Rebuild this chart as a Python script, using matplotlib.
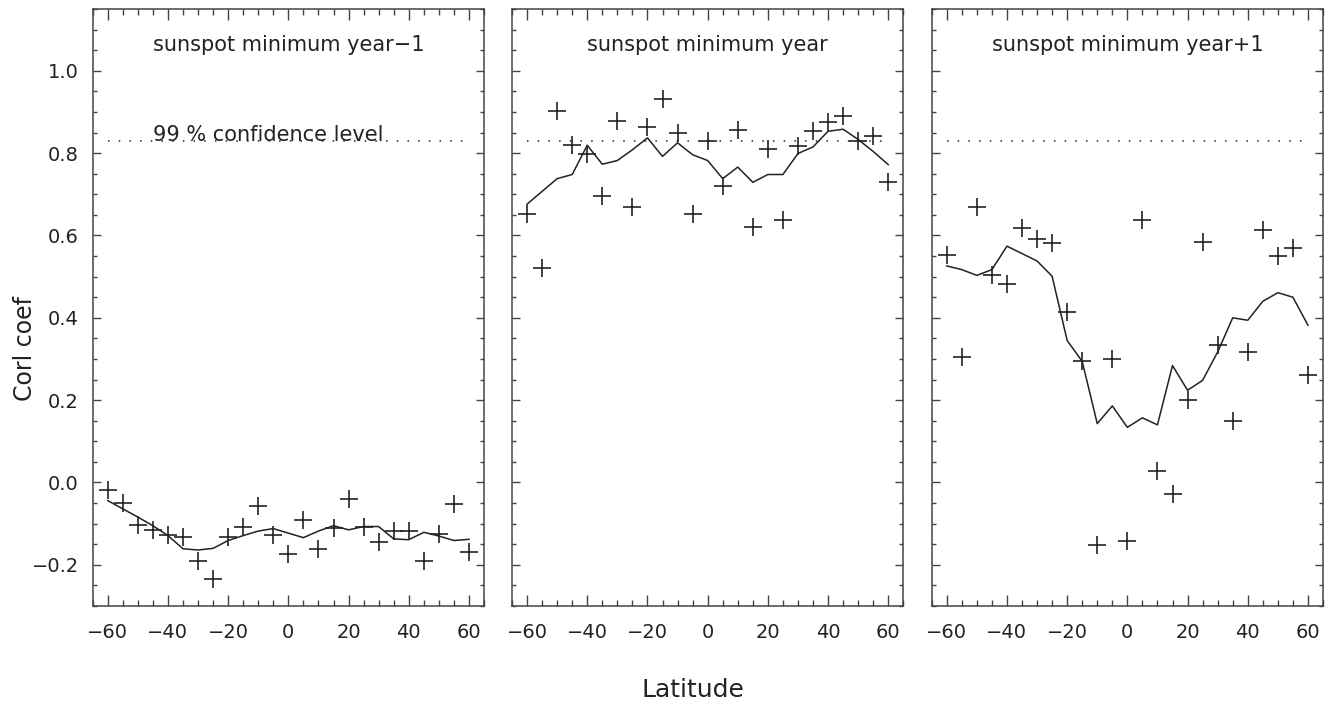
import numpy as np
import matplotlib
matplotlib.use("Agg")
import matplotlib.pyplot as plt
from matplotlib.ticker import MultipleLocator

# ---------------- data ----------------
latitude = list(range(-60, 61, 5))

titles = ["sunspot minimum year\u22121", "sunspot minimum year", "sunspot minimum year+1"]

# crosses (individual correlation coefficients)
pts_ym1 = [-0.019, -0.049, -0.103, -0.115, -0.127, -0.133, -0.191, -0.234, -0.133, -0.109,
           -0.058, -0.127, -0.173, -0.090, -0.161, -0.110, -0.041, -0.107, -0.145, -0.117,
           -0.118, -0.191, -0.125, -0.052, -0.169]
pts_y0 = [0.651, 0.522, 0.902, 0.819, 0.799, 0.697, 0.878, 0.668, 0.864, 0.932,
          0.849, 0.651, 0.829, 0.719, 0.857, 0.621, 0.811, 0.638, 0.817, 0.854,
          0.876, 0.890, 0.829, 0.841, 0.730]
pts_yp1 = [0.552, 0.305, 0.669, 0.505, 0.483, 0.618, 0.592, 0.582, 0.414, 0.296,
           -0.153, 0.299, -0.143, 0.638, 0.029, -0.029, 0.201, 0.584, 0.335, 0.149,
           0.318, 0.614, 0.550, 0.569, 0.260]

# solid lines (smoothed)
line_ym1 = [-0.044, -0.064, -0.084, -0.105, -0.129, -0.161, -0.164, -0.160, -0.141, -0.129,
            -0.118, -0.112, -0.123, -0.134, -0.118, -0.105, -0.115, -0.107, -0.107, -0.137,
            -0.139, -0.121, -0.130, -0.141, -0.138]
line_y0 = [0.676, 0.707, 0.738, 0.748, 0.819, 0.773, 0.782, 0.808, 0.837, 0.792,
           0.825, 0.796, 0.782, 0.738, 0.766, 0.729, 0.748, 0.748, 0.799, 0.815,
           0.853, 0.858, 0.833, 0.804, 0.772]
line_yp1 = [0.526, 0.517, 0.503, 0.517, 0.574, 0.556, 0.538, 0.501, 0.345, 0.294,
            0.143, 0.186, 0.134, 0.157, 0.140, 0.284, 0.224, 0.248, 0.317, 0.400,
            0.394, 0.440, 0.461, 0.450, 0.382]

confidence = 0.83
conf_label = "99 % confidence level"
xticks = [-60, -40, -20, 0, 20, 40, 60]
yticks = [-0.2, 0.0, 0.2, 0.4, 0.6, 0.8, 1.0]

points = [pts_ym1, pts_y0, pts_yp1]
lines = [line_ym1, line_y0, line_yp1]

# ---------------- figure ----------------
plt.rcParams['font.family'] = ['DejaVu Sans']
W, H = 1331, 706
fig = plt.figure(figsize=(W / 100, H / 100), dpi=100)

ink = '#222222'
frame = '#444444'
lefts_px = [92.7, 512.0, 931.7]
width_px = 391.3
bottom = (H - 606) / H
height = (606 - 9) / H

for i in range(3):
    ax = fig.add_axes([lefts_px[i] / W, bottom, width_px / W, height])
    ax.set_xlim(-65, 65)
    ax.set_ylim(-0.3, 1.15)
    ax.plot(latitude, lines[i], color=ink, lw=1.1)
    ax.plot(latitude, points[i], linestyle='none', marker='+', markersize=13,
            markeredgewidth=1.2, color=ink)
    ax.plot([latitude[0], latitude[-1]], [confidence, confidence], color=ink,
            lw=1.1, linestyle=(0, (1, 6)))
    ax.text(0, 1.062, titles[i], ha='center', va='center', fontsize=15, color=ink)
    if i == 0:
        ax.text(-45, confidence, conf_label, ha='left', va='baseline',
                fontsize=15, color=ink)

    ax.xaxis.set_major_locator(MultipleLocator(20))
    ax.xaxis.set_minor_locator(MultipleLocator(5))
    ax.yaxis.set_major_locator(MultipleLocator(0.2))
    ax.yaxis.set_minor_locator(MultipleLocator(0.05))
    ax.set_xticks(xticks)
    ax.set_xticklabels([("\u2212%d" % -v) if v < 0 else "%d" % v for v in xticks])
    ax.set_yticks(yticks)
    if i == 0:
        ax.set_yticklabels(["\u2212%.1f" % -v if v < 0 else "%.1f" % v for v in yticks])
    else:
        ax.set_yticklabels([])
    ax.tick_params(axis='x', which='major', direction='in', length=8, width=1.0,
                   top=True, bottom=True, labelsize=14, pad=12, colors=frame,
                   labelcolor=ink)
    ax.tick_params(axis='x', which='minor', direction='in', length=4, width=1.0,
                   top=True, bottom=True, colors=frame)
    ax.tick_params(axis='y', which='major', direction='in', length=6, width=1.0,
                   left=True, right=True, labelsize=14, pad=10, colors=frame,
                   labelcolor=ink)
    ax.tick_params(axis='y', which='minor', direction='in', length=3, width=1.0,
                   left=True, right=True, colors=frame)
    for s in ax.spines.values():
        s.set_color(frame)
        s.set_linewidth(1.1)

fig.text(693 / W, 1 - 690 / H, "Latitude", ha='center', va='center', fontsize=18, color=ink)
fig.text(25 / W, 1 - 348 / H, "Corl coef", ha='center', va='center', rotation=90,
         fontsize=17, color=ink)

fig.savefig("out.png", dpi=100)
